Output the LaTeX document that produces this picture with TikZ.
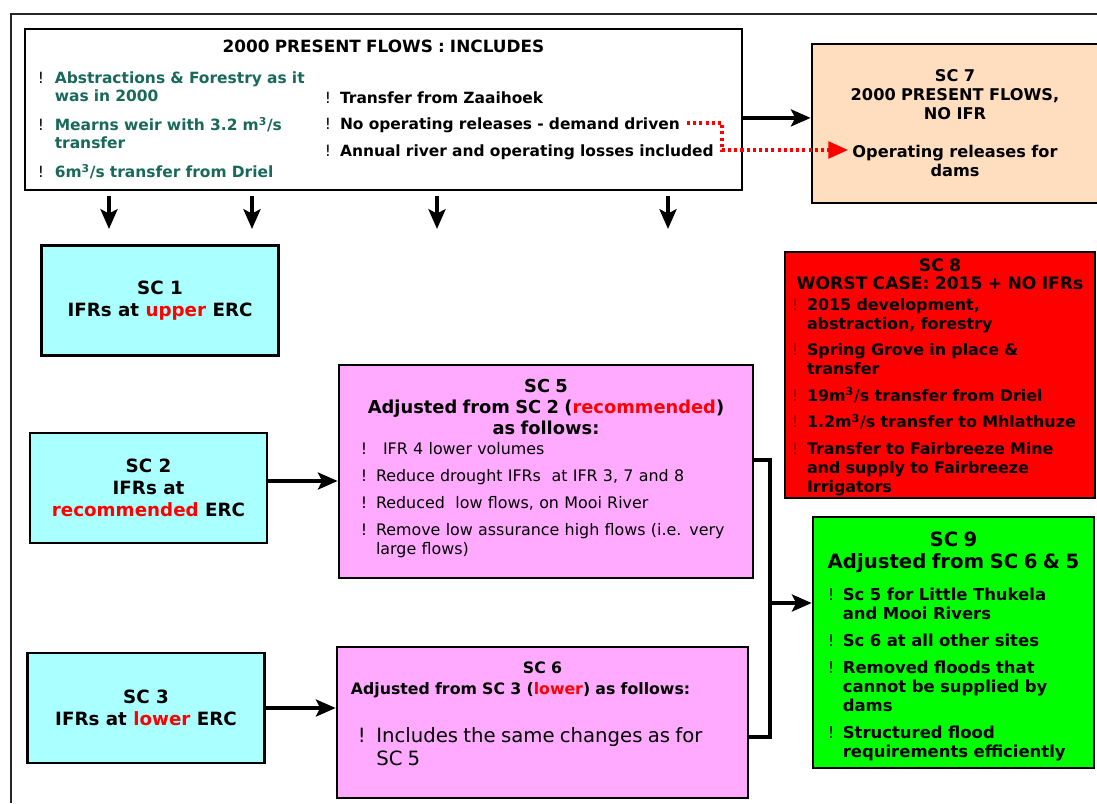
\documentclass[tikz,border=0pt]{standalone}
\usepackage{fontspec}
\setmainfont{DejaVu Sans}
\usetikzlibrary{arrows.meta, positioning}
\definecolor{sccyan}{RGB}{170,255,255}
\definecolor{scpink}{RGB}{255,170,255}
\definecolor{scpeach}{RGB}{255,222,192}
\definecolor{scred}{RGB}{255,0,0}
\definecolor{scgreen}{RGB}{0,255,0}
\definecolor{darkteal}{RGB}{25,105,90}
\definecolor{darkred}{RGB}{140,0,0}
\colorlet{bangc}{black}

\newlength{\bindent}
\setlength{\bindent}{10.7pt}
\newcommand{\bangmark}{{\mdseries\color{bangc}!}}
\newcommand{\bitem}[2][0pt]{\par\noindent\hangindent=\dimexpr#1+\bindent\relax\hangafter=1\hspace*{#1}\makebox[\bindent][l]{\bangmark}#2\par}
\newcommand{\hl}[1]{\textcolor{red}{#1}}

\begin{document}
\begin{tikzpicture}[x=0.025cm, y=-0.025cm,
    scbox/.style={draw, line width=1.8pt, inner ysep=0pt},
    ercbox/.style={scbox, fill=sccyan, minimum width=5.925cm, minimum height=2.75cm,
      align=center, font=\fontsize{13}{15.5}\selectfont\bfseries},
    listbox/.style={scbox, align=left,
      execute at begin node={\setlength{\parskip}{5.7pt}\raggedright}},
    fatarrow/.style={line width=2.8pt, -{Stealth[length=14pt, width=12pt, inset=3pt]}}]
    \useasboundingbox (0,0) rectangle (1097,803);

    % Outer frame
    \draw[line width=1.4pt, black!85] (11,803) -- (11,14) -- (1097,14);

    % Present flows
    \node (topflows) [draw, line width=1.5pt, minimum width=17.925cm, minimum height=4.025cm,
      text width=17.275cm, inner xsep=0.325cm, inner ysep=0pt, align=left,
      font=\fontsize{11}{12.8}\selectfont\bfseries] at (383.5,109.5) {
      {\centering\fontsize{12}{13}\selectfont 2000 PRESENT FLOWS : INCLUDES\par}
      \vspace{13pt}
      \noindent\begin{minipage}[c]{7.175cm}\raggedright\setlength{\parskip}{7.8pt}%
        \setlength{\bindent}{12pt}\color{darkteal}
        \bitem{Abstractions \& Forestry as it\newline was in 2000}
        \bitem{Mearns weir with 3.2 m\textsuperscript{3}/s\newline transfer}
        \bitem{6m\textsuperscript{3}/s transfer from Driel}
      \end{minipage}%
      \begin{minipage}[c]{10.1cm}\raggedright\setlength{\parskip}{6pt}%
        \bitem{Transfer from Zaaihoek}
        \bitem{No operating releases - demand driven}
        \bitem{Annual river and operating losses included}
      \end{minipage}};

    % No IFR
    \node (sc7) [scbox, fill=scpeach, minimum width=7.15cm, minimum height=3.975cm,
      text width=6.8cm, align=center, font=\fontsize{11.5}{13.5}\selectfont\bfseries]
      at (955,123.5) {SC 7\\2000 PRESENT FLOWS,\\NO IFR\\[13.5pt]Operating releases for\\dams};

    % ERC scenarios
    \node (sc1) [ercbox] at (160,300.5) {SC 1\\IFRs at \hl{upper} ERC};
    \node (sc2) [ercbox] at (148.5,488) {SC 2\\IFRs at\\\hl{recommended} ERC};
    \node (sc3) [ercbox] at (146,708) {SC 3\\IFRs at \hl{lower} ERC};

    % Adjusted scenarios
    \node (sc5) [listbox, fill=scpink, minimum width=10.35cm, minimum height=5.325cm,
      text width=9.25cm, inner xsep=0.55cm, font=\fontsize{11.3}{13.5}\selectfont]
      at (546,471.5) {
      {\centering\bfseries\fontsize{12.7}{15}\selectfont SC 5\\Adjusted from SC 2 (\hl{recommended})\\as follows:\par}
      \vspace{-5pt}
      \bitem{\hspace{5pt}IFR 4 lower volumes}
      \bitem{Reduce drought IFRs\ \ at IFR 3, 7 and 8}
      \bitem{Reduced\ \ low flows, on Mooi River}
      \bitem{Remove low assurance high flows (i.e. very\newline large flows)}
      \vspace{4pt}\hrule height 0pt};
    \node (sc6) [listbox, fill=scpink, minimum width=10.275cm, minimum height=3.775cm,
      text width=9.575cm, inner xsep=0.35cm, font=\fontsize{11.2}{15}\selectfont\bfseries]
      at (542.5,722.5) {
      {\centering SC 6\par}
      \vspace{-5.7pt}
      Adjusted from SC 3 (\hl{lower}) as follows:\par
      \vspace{12pt}
      {\mdseries\fontsize{14}{16.5}\selectfont\setlength{\bindent}{13pt}%
        \bitem[5pt]{Includes the same changes as for\newline SC 5}}
      \vspace{12.8pt}\hrule height 0pt};

    % Worst case
    \node (sc8) [listbox, fill=scred, minimum width=7.75cm, minimum height=6.15cm,
      text width=7.4cm, inner xsep=0.175cm, font=\fontsize{11.3}{13.3}\selectfont\bfseries,
      execute at begin node={\colorlet{bangc}{darkred}}] at (940,375) {
      \hrule height 0pt\vspace{-3pt}
      {\centering\fontsize{12.2}{13}\selectfont SC 8\\WORST CASE: 2015 + NO IFRs\par}
      \vspace{-4pt}
      \bitem{2015 development,\newline abstraction, forestry}
      \bitem{Spring Grove in place \&\newline transfer}
      \bitem{19m\textsuperscript{3}/s transfer from Driel}
      \bitem{1.2m\textsuperscript{3}/s transfer to Mhlathuze}
      \bitem{Transfer to Fairbreeze Mine\newline and supply to Fairbreeze\newline Irrigators}};

    % Combined
    \node (sc9) [listbox, fill=scgreen, minimum width=7.025cm, minimum height=6.275cm,
      text width=6.425cm, inner xsep=0.3cm, font=\fontsize{11.7}{13.5}\selectfont\bfseries]
      at (953.5,642.5) {
      \hrule height 0pt
      {\centering\fontsize{14}{15.5}\selectfont SC 9\\Adjusted from SC 6 \& 5\par}
      \vspace{3.6pt}
      \bitem[2pt]{Sc 5 for Little Thukela\newline and Mooi Rivers}
      \bitem[2pt]{Sc 6 at all other sites}
      \bitem[2pt]{Removed floods that\newline cannot be supplied by\newline dams}
      \bitem[2pt]{Structured flood\newline requirements efficiently}};

    % Arrows
    \coordinate (a1) at (109,196); \coordinate (b1) at (109,229);
    \coordinate (a2) at (252,196); \coordinate (b2) at (252,229);
    \coordinate (a3) at (437,196); \coordinate (b3) at (437,229);
    \coordinate (a4) at (668,196); \coordinate (b4) at (668,229);
    \draw[fatarrow] (a1) -- (b1);
    \draw[fatarrow] (a2) -- (b2);
    \draw[fatarrow] (a3) -- (b3);
    \draw[fatarrow] (a4) -- (b4);
    \draw[fatarrow] ([yshift=-0.21cm]topflows.east) -- ([yshift=-0.21cm]topflows.east -| sc7.west);
    \coordinate (drv) at (687,123);
    \coordinate (opr) at (848,150);
    \draw[red, line width=2.2pt, dash pattern=on 2.2pt off 2.2pt,
      -{Triangle[length=14pt, width=12pt]}] (drv) -- ++(35,0) |- (opr);
    \draw[fatarrow] ([yshift=0.175cm]sc2.east) -- ([yshift=0.175cm]sc2.east -| sc5.west);
    \draw[fatarrow] (sc3.east) -- (sc3.east -| sc6.west);
    \coordinate (join) at (770,603);
    \draw[line width=2.8pt] ([yshift=0.29cm]sc5.east) -| (join) |- ([yshift=-0.36cm]sc6.east);
    \draw[fatarrow] (join) -- (join -| sc9.west);
  \end{tikzpicture}
\end{document}
